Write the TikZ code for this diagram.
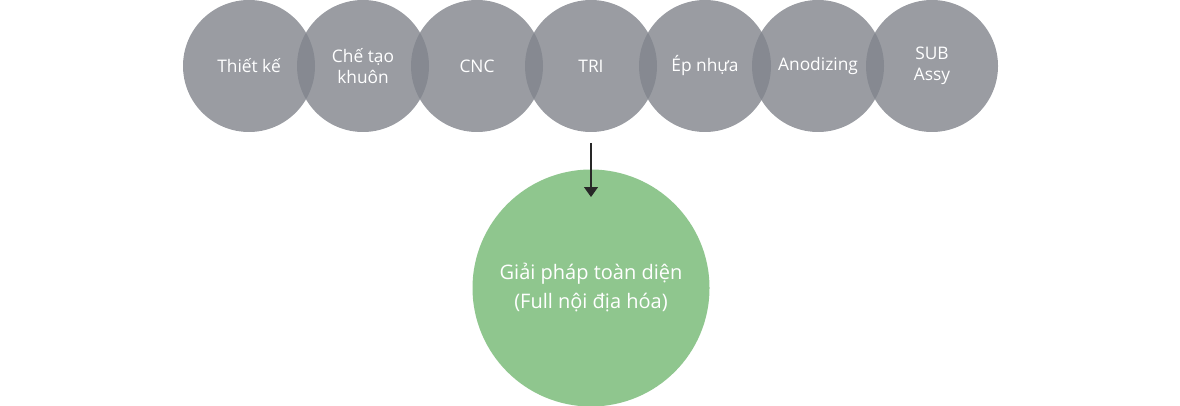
\documentclass[tikz,border=0pt]{standalone}
\usepackage{fontspec}
\setmainfont{Open Sans}
\usetikzlibrary{arrows.meta}
\definecolor{stagegray}{RGB}{130,133,141}
\definecolor{resultgreen}{RGB}{143,198,142}
\definecolor{arrowgray}{RGB}{40,40,40}
\begin{document}
\begin{tikzpicture}[
        x=0.75pt, y=-0.75pt,
        stage/.style={circle, fill=stagegray, fill opacity=0.81, text opacity=1, text=white, minimum size=99pt, inner sep=0pt, align=center, font=\fontsize{13}{15.75}\selectfont},
        result/.style={circle, fill=resultgreen, text=white, minimum size=177.75pt, inner sep=0pt, align=center, font=\fontsize{15}{21.75}\selectfont}
    ]
        \useasboundingbox (0,0) rectangle (1180,406);
        % process stages along the top
        \node[stage] (thietke) at (249,66) {Thiết kế};
        \node[stage] (khuon) at (363,66) {Chế tạo\\khuôn};
        \node[stage] (cnc) at (477,66) {CNC};
        \node[stage] (tri) at (591,66) {TRI};
        \node[stage] (epnhua) at (705,66) {Ép nhựa};
        \node[stage] (anodizing) at (818,66) {Anodizing};
        \node[stage] (subassy) at (932,66) {SUB\\Assy};
        % overall solution
        \node[result] (giaiphap) at (591,288) {Giải pháp toàn diện\\(Full nội địa hóa)};
        \coordinate (arrowstart) at (591,143);
        \coordinate (arrowend) at (591,197);
        \draw[arrowgray, line width=0.9pt, -{Triangle[length=7.5pt, width=10.5pt]}] (arrowstart) -- (arrowend);
    \end{tikzpicture}
\end{document}
